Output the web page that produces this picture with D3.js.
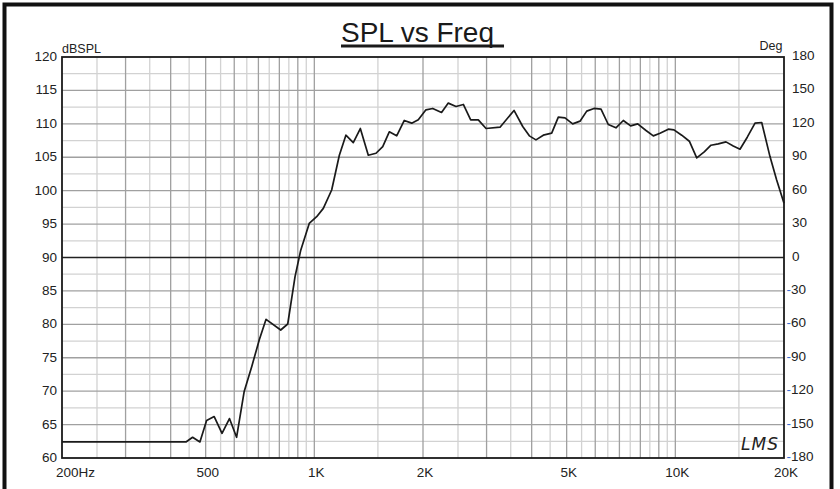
<!DOCTYPE html>
<html><head><meta charset="utf-8">
<script src="https://cdn.jsdelivr.net/npm/d3@7"></script>
<style>
html,body{margin:0;padding:0;background:#fff;}
svg{display:block;font-family:"Liberation Sans",Arial,sans-serif;}
</style></head>
<body><svg id="c" width="840" height="489"></svg>
<script>
const freq = [200,441,460,482,503,528,555,582,609,639,671,704,735,807,844,884,917,968,1015,1059,1117,1173,1223,1282,1341,1411,1482,1547,1613,1691,1775,1861,1941,2038,2128,2251,2350,2469,2587,2711,2846,2990,3269,3574,3778,3941,4111,4308,4545,4741,4947,5196,5445,5683,5953,6225,6521,6847,7177,7521,7866,8295,8690,9070,9562,9914,10415,10935,11462,12026,12553,13151,13813,14471,15105,15823,16626,17350,18290,19086,20000];
const spl = [62.4,62.4,63.1,62.4,65.6,66.2,63.7,65.9,63.1,69.9,73.7,77.7,80.75,79.15,80.05,87.1,91.1,95.1,96.1,97.35,100.1,105.3,108.3,107.2,109.3,105.3,105.6,106.6,108.8,108.2,110.5,110.1,110.6,112.1,112.3,111.7,113.1,112.6,112.9,110.6,110.6,109.3,109.5,112.0,109.6,108.2,107.6,108.3,108.6,111.0,110.9,110.0,110.4,111.9,112.3,112.2,109.9,109.4,110.5,109.7,110.0,109.0,108.2,108.6,109.2,109.1,108.3,107.4,104.9,105.8,106.8,107.0,107.3,106.7,106.2,108.0,110.1,110.2,105.1,101.6,98.1];
const xTickValues = [200,500,1000,2000,5000,10000,20000];
const xTickLabels = ["200Hz","500","1K","2K","5K","10K","20K"];
const splTicks = [60,65,70,75,80,85,90,95,100,105,110,115,120];
const degTicks = [-180,-150,-120,-90,-60,-30,0,30,60,90,120,150,180];
const gridMajorFreq = [300,400,500,600,700,800,900,1000,2000,3000,4000,5000,6000,7000,8000,9000,10000];
const gridMinorFreq = [250,350,450,550,650,750,850,950,1500,2500,3500,4500,5500,6500,7500,8500,9500,15000];
const gridMajorSpl = [65,70,75,80,85,95,100,105,110,115];
const gridMinorSpl = [62.5,67.5,72.5,77.5,82.5,87.5,92.5,97.5,102.5,107.5,112.5,117.5];
const title = "SPL vs Freq";

const L=62,R=784,T=57,B=458;
const svg = d3.select("#c");
const x = d3.scaleLog().domain([200,20000]).range([L,R]);
const y = d3.scaleLinear().domain([60,120]).range([B,T]);
const yDeg = d3.scaleLinear().domain([-180,180]).range([B,T]);

// outer frame
svg.append("rect").attr("x",4.5).attr("y",4.5).attr("width",827).attr("height",490)
  .attr("fill","none").attr("stroke","#111").attr("stroke-width",4);

const g = svg.append("g");
// minor grid
g.selectAll(".vmin").data(gridMinorFreq).join("line")
  .attr("x1",d=>x(d)).attr("x2",d=>x(d)).attr("y1",T).attr("y2",B)
  .attr("stroke","#d2d2d2").attr("stroke-width",1.3);
g.selectAll(".hmin").data(gridMinorSpl).join("line")
  .attr("x1",L).attr("x2",R).attr("y1",d=>y(d)).attr("y2",d=>y(d))
  .attr("stroke","#d2d2d2").attr("stroke-width",1.3);
// major grid
g.selectAll(".vmaj").data(gridMajorFreq).join("line")
  .attr("x1",d=>x(d)).attr("x2",d=>x(d)).attr("y1",T).attr("y2",B)
  .attr("stroke","#a0a0a0").attr("stroke-width",1.3);
g.selectAll(".hmaj").data(gridMajorSpl).join("line")
  .attr("x1",L).attr("x2",R).attr("y1",d=>y(d)).attr("y2",d=>y(d))
  .attr("stroke","#a0a0a0").attr("stroke-width",1.3);
// zero-degree line
g.append("line").attr("x1",L).attr("x2",R).attr("y1",y(90)).attr("y2",y(90))
  .attr("stroke","#222").attr("stroke-width",1.5);

// curve
const line = d3.line().x(d=>x(d[0])).y(d=>y(d[1]));
g.append("path").datum(freq.map((f,i)=>[f,spl[i]]))
  .attr("d",line).attr("fill","none").attr("stroke","#1a1a1a")
  .attr("stroke-width",1.7).attr("stroke-linejoin","round");

// plot border
g.append("rect").attr("x",L).attr("y",T).attr("width",R-L).attr("height",B-T)
  .attr("fill","none").attr("stroke","#1a1a1a").attr("stroke-width",1.8);

// left axis labels
svg.selectAll(".yl").data(splTicks).join("text")
  .attr("x",57).attr("y",d=>y(d)+4).attr("text-anchor","end")
  .attr("font-size",13.5).attr("fill","#222").text(d=>d);
// right axis labels
const rl = svg.selectAll(".yr").data(degTicks).join("text")
  .attr("y",d=>yDeg(d)+3).attr("font-size",13.5).attr("fill","#222")
  .attr("x",d=>d<0?786.5:792);
rl.each(function(d){
  const t=d3.select(this);
  if(d<0){
    t.append("tspan").attr("fill","#3b6fd0").text("-");
    t.append("tspan").text(Math.abs(d));
  } else t.text(d);
});
// x labels
svg.selectAll(".xl").data(xTickValues).join("text")
  .attr("x",(d,i)=>i===0?x(d)-6:x(d)+2).attr("y",477)
  .attr("text-anchor",(d,i)=>i===0?"start":"middle")
  .attr("font-size",13.5).attr("fill","#222").text((d,i)=>xTickLabels[i]);

// unit labels
svg.append("text").attr("x",62).attr("y",52.5).attr("font-size",12.5).attr("fill","#222").text("dBSPL");
svg.append("text").attr("x",782.5).attr("y",50).attr("text-anchor","end").attr("font-size",12.5).attr("fill","#222").text("Deg");

// title
const tt = svg.append("text").attr("x",341).attr("y",41.5).attr("font-size",28).attr("fill","#1a1a1a").text(title);
const tw = tt.node().getComputedTextLength();
svg.append("rect").attr("x",341).attr("y",44.5).attr("width",tw+10).attr("height",3).attr("fill","#1a1a1a");

// logo
svg.append("text").attr("x",741).attr("y",450).attr("font-size",17).attr("font-style","italic")
  .attr("font-family","DejaVu Sans").attr("font-weight",300).attr("fill","#222").attr("letter-spacing",1).text("LMS");
</script></body></html>
